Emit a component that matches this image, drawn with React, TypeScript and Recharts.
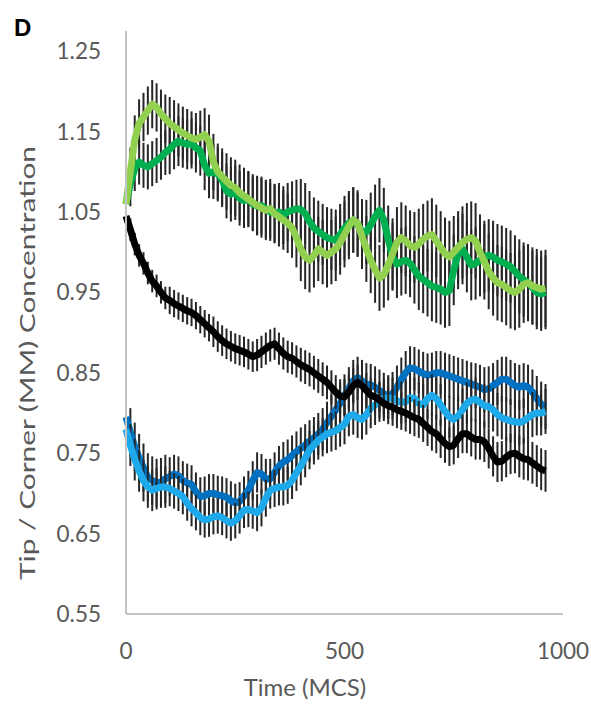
import React from "react";
import { LineChart, Line, XAxis, YAxis, ErrorBar } from "recharts";

// Sampling times (MCS), one sample every 10 MCS from 0 to 960
const TIME_STEP = 10;
const TIMES: number[] = Array.from({ length: 97 }, (_, i) => i * TIME_STEP);

// Mean tip/corner concentration for each condition
const LIGHT_GREEN: number[] = [
  1.06, 1.1, 1.14, 1.16, 1.168, 1.176, 1.184, 1.18, 1.172, 1.166,
  1.16, 1.156, 1.152, 1.148, 1.145, 1.142, 1.14, 1.143, 1.146, 1.138,
  1.112, 1.1, 1.094, 1.088, 1.083, 1.08, 1.074, 1.07, 1.066, 1.062,
  1.058, 1.055, 1.052, 1.054, 1.048, 1.044, 1.04, 1.036, 1.03, 1.018,
  1.004, 0.994, 0.99, 0.996, 1.004, 1.0, 0.996, 1.0, 1.004, 1.012,
  1.022, 1.032, 1.04, 1.036, 1.02, 1.004, 0.99, 0.978, 0.968, 0.972,
  0.984, 0.998, 1.012, 1.018, 1.014, 1.008, 1.006, 1.01, 1.016, 1.02,
  1.022, 1.014, 1.006, 0.998, 0.994, 1.0, 1.006, 1.012, 1.016, 1.018,
  1.014, 1.0, 0.988, 0.976, 0.968, 0.962, 0.96, 0.956, 0.952, 0.95,
  0.954, 0.96, 0.962, 0.958, 0.956, 0.954, 0.955,
];

const DARK_GREEN: number[] = [
  1.06, 1.085, 1.104, 1.112, 1.108, 1.106, 1.11, 1.114, 1.118, 1.124,
  1.128, 1.134, 1.138, 1.136, 1.134, 1.135, 1.13, 1.126, 1.108, 1.098,
  1.1, 1.097, 1.09, 1.076, 1.072, 1.074, 1.067, 1.064, 1.066, 1.06,
  1.057, 1.058, 1.054, 1.05, 1.048, 1.05, 1.046, 1.05, 1.052, 1.054,
  1.053, 1.048, 1.038, 1.03, 1.026, 1.022, 1.018, 1.016, 1.015, 1.022,
  1.03, 1.036, 1.04, 1.034, 1.026, 1.025, 1.034, 1.044, 1.052, 1.04,
  1.016, 0.994, 0.985, 0.988, 0.99, 0.986, 0.978, 0.97, 0.966, 0.962,
  0.958, 0.956, 0.954, 0.95, 0.952, 0.978, 0.998, 1.004, 0.994, 0.984,
  0.986, 0.99, 0.994, 0.996, 0.994, 0.99, 0.988, 0.985, 0.982, 0.976,
  0.97, 0.966, 0.962, 0.956, 0.95, 0.948, 0.95,
];

const BLACK: number[] = [
  1.045, 1.028, 1.01, 0.996, 0.986, 0.974, 0.964, 0.958, 0.95, 0.943,
  0.94, 0.936, 0.933, 0.93, 0.927, 0.925, 0.921, 0.916, 0.911, 0.906,
  0.901, 0.895, 0.89, 0.886, 0.883, 0.88, 0.878, 0.876, 0.873, 0.87,
  0.872, 0.876, 0.88, 0.884, 0.886, 0.88, 0.874, 0.87, 0.868, 0.864,
  0.86, 0.857, 0.854, 0.85, 0.846, 0.842, 0.838, 0.832, 0.826, 0.821,
  0.82, 0.826, 0.834, 0.838, 0.834, 0.828, 0.822, 0.82, 0.816, 0.812,
  0.809, 0.807, 0.804, 0.802, 0.8, 0.797, 0.794, 0.792, 0.787, 0.782,
  0.777, 0.774, 0.768, 0.762, 0.758, 0.76, 0.768, 0.774, 0.774, 0.77,
  0.767, 0.767, 0.764, 0.756, 0.746, 0.739, 0.74, 0.745, 0.749, 0.75,
  0.746, 0.743, 0.742, 0.738, 0.734, 0.73, 0.728,
];

const DARK_BLUE: number[] = [
  0.795, 0.776, 0.758, 0.744, 0.732, 0.72, 0.716, 0.713, 0.714, 0.718,
  0.721, 0.724, 0.722, 0.716, 0.713, 0.711, 0.702, 0.696, 0.697, 0.7,
  0.7, 0.698, 0.697, 0.695, 0.691, 0.688, 0.69, 0.697, 0.704, 0.716,
  0.726, 0.724, 0.718, 0.718, 0.726, 0.734, 0.739, 0.742, 0.747, 0.752,
  0.756, 0.76, 0.765, 0.769, 0.774, 0.78, 0.788, 0.796, 0.804, 0.812,
  0.822, 0.831, 0.84, 0.844, 0.84, 0.836, 0.835, 0.832, 0.828, 0.824,
  0.82, 0.824, 0.832, 0.842, 0.85, 0.856, 0.855, 0.852, 0.849, 0.847,
  0.848, 0.85, 0.85, 0.848, 0.846, 0.844, 0.842, 0.84, 0.838, 0.836,
  0.834, 0.832, 0.829, 0.83, 0.834, 0.838, 0.842, 0.842, 0.838, 0.834,
  0.832, 0.834, 0.832, 0.826, 0.818, 0.811, 0.808,
];

const LIGHT_BLUE: number[] = [
  0.78, 0.76, 0.742, 0.728, 0.716, 0.708, 0.704, 0.706, 0.708, 0.708,
  0.706, 0.703, 0.7, 0.696, 0.688, 0.681, 0.676, 0.67, 0.667, 0.668,
  0.671, 0.672, 0.67, 0.666, 0.663, 0.666, 0.672, 0.679, 0.68, 0.678,
  0.676, 0.682, 0.694, 0.704, 0.706, 0.708, 0.708, 0.71, 0.716, 0.726,
  0.734, 0.744, 0.754, 0.76, 0.766, 0.77, 0.774, 0.776, 0.778, 0.782,
  0.786, 0.796, 0.798, 0.794, 0.792, 0.798, 0.806, 0.81, 0.814, 0.818,
  0.819, 0.818, 0.815, 0.813, 0.814, 0.819, 0.818, 0.812, 0.81, 0.818,
  0.822, 0.818, 0.81, 0.802, 0.795, 0.792, 0.796, 0.804, 0.812, 0.816,
  0.817, 0.813, 0.809, 0.808, 0.804, 0.798, 0.794, 0.792, 0.79, 0.789,
  0.788, 0.79, 0.794, 0.798, 0.8, 0.8, 0.802,
];

// Half-width of the error bars, one value per 100 MCS window
const LIGHT_GREEN_ERR: number[] = [0.03, 0.033, 0.035, 0.037, 0.04, 0.041, 0.044, 0.045, 0.047, 0.048];
const DARK_GREEN_ERR: number[] = [0.028, 0.031, 0.034, 0.036, 0.038, 0.04, 0.042, 0.044, 0.045, 0.046];
const BLACK_ERR: number[] = [0.014, 0.017, 0.019, 0.02, 0.021, 0.022, 0.023, 0.024, 0.025, 0.026];
const DARK_BLUE_ERR: number[] = [0.03, 0.024, 0.024, 0.025, 0.026, 0.026, 0.027, 0.027, 0.028, 0.028];
const LIGHT_BLUE_ERR: number[] = [0.026, 0.022, 0.022, 0.023, 0.024, 0.025, 0.026, 0.026, 0.027, 0.028];

const X_TICKS: number[] = [0, 500, 1000];
const Y_TICKS: number[] = [0.55, 0.65, 0.75, 0.85, 0.95, 1.05, 1.15, 1.25];

const PANEL_LABEL = "D";
const X_TITLE = "Time (MCS)";
const Y_TITLE = "Tip / Corner (MM) Concentration";

const SERIES = [
  { key: "darkBlue", values: DARK_BLUE, err: DARK_BLUE_ERR, color: "#0070C0" },
  { key: "lightBlue", values: LIGHT_BLUE, err: LIGHT_BLUE_ERR, color: "#1EAAEA" },
  { key: "black", values: BLACK, err: BLACK_ERR, color: "#000000" },
  { key: "darkGreen", values: DARK_GREEN, err: DARK_GREEN_ERR, color: "#00B050" },
  { key: "lightGreen", values: LIGHT_GREEN, err: LIGHT_GREEN_ERR, color: "#92D050" },
];

// Series whose error bars sit underneath their own line
const BARS_BELOW = new Set(["darkGreen", "lightGreen"]);

const rows = TIMES.map((t, i) => {
  const row: Record<string, number> = { t };
  const bin = Math.min(9, Math.floor(t / 100));
  SERIES.forEach((s) => {
    row[s.key] = s.values[i];
    row[s.key + "Err"] = s.err[bin];
  });
  return row;
});

const FONT = "Lato, 'Open Sans', sans-serif";
const AXIS_GREY = "#c4c4c4";
const TEXT_GREY = "#595959";
const BAR_COLOR = "#262626";

const errorBar = (key: string) => (
  <ErrorBar
    dataKey={key + "Err"}
    direction="y"
    width={0}
    stroke={BAR_COLOR}
    strokeWidth={2}
    isAnimationActive={false}
  />
);

export default function App() {
  const below = SERIES.filter((s) => BARS_BELOW.has(s.key));
  const above = SERIES.filter((s) => !BARS_BELOW.has(s.key));
  return (
    <div style={{ position: "absolute", left: 0, top: 0, width: 591, height: 704, background: "#fff" }}>
      <LineChart
        width={591}
        height={704}
        data={rows}
        margin={{ top: 31, right: 28, bottom: 30, left: 0 }}
      >
        <XAxis
          dataKey="t"
          type="number"
          domain={[0, 1000]}
          ticks={X_TICKS}
          height={60}
          tickLine={false}
          tickSize={0}
          tickMargin={29}
          axisLine={{ stroke: AXIS_GREY, strokeWidth: 2 }}
          tick={{ fill: TEXT_GREY, fontSize: 22.5, fontFamily: FONT }}
        />
        <YAxis
          type="number"
          domain={[0.55, 1.275]}
          allowDataOverflow
          ticks={Y_TICKS}
          width={126}
          tickLine={false}
          tickSize={0}
          tickMargin={25}
          tickFormatter={(v: number) => v.toFixed(2)}
          axisLine={{ stroke: AXIS_GREY, strokeWidth: 2 }}
          tick={{ fill: TEXT_GREY, fontSize: 22.5, fontFamily: FONT }}
        />
        {above.map((s) => (
          <Line
            key={s.key}
            dataKey={s.key}
            type="linear"
            stroke={s.color}
            strokeWidth={7}
            strokeLinejoin="round"
            dot={false}
            activeDot={false}
            isAnimationActive={false}
          >
            {errorBar(s.key)}
          </Line>
        ))}
        {below.map((s) => (
          <Line
            key={s.key + "-bars"}
            dataKey={s.key}
            type="linear"
            stroke="none"
            dot={false}
            activeDot={false}
            isAnimationActive={false}
          >
            {errorBar(s.key)}
          </Line>
        ))}
        {below.map((s) => (
          <Line
            key={s.key}
            dataKey={s.key}
            type="linear"
            stroke={s.color}
            strokeWidth={7}
            strokeLinejoin="round"
            dot={false}
            activeDot={false}
            isAnimationActive={false}
          />
        ))}
      </LineChart>
      <svg
        width={591}
        height={704}
        style={{ position: "absolute", left: 0, top: 0, pointerEvents: "none" }}
      >
        <text x={14} y={36} fontFamily="'Liberation Sans', Arial, sans-serif" fontWeight="bold" fontSize={24} fill="#000">
          {PANEL_LABEL}
        </text>
        <text
          x={305}
          y={696}
          textAnchor="middle"
          fontFamily={FONT}
          fontSize={24}
          fill={TEXT_GREY}
        >
          {X_TITLE}
        </text>
        <text
          x={35}
          y={363}
          textAnchor="middle"
          fontFamily={FONT}
          fontSize={22}
          fill={TEXT_GREY}
          textLength={434}
          lengthAdjust="spacingAndGlyphs"
          transform="rotate(-90, 35, 363)"
        >
          {Y_TITLE}
        </text>
      </svg>
    </div>
  );
}
